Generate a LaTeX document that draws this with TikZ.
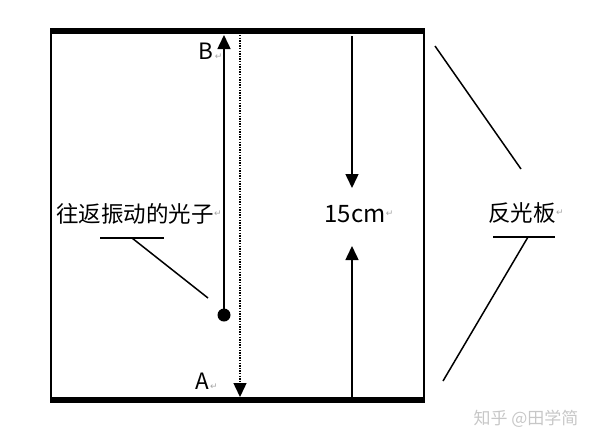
\documentclass[tikz,border=0pt]{standalone}
\usepackage{fontspec}
\setmainfont{Noto Sans CJK SC}
\newfontfamily\symfont{DejaVu Sans}
\usetikzlibrary{arrows.meta}
\begin{document}
\begin{tikzpicture}[x=1pt,y=-1pt,
  plate/.style={line width=6.5pt},
  wall/.style={line width=1.8pt},
  ray/.style={line width=1.5pt,-{Triangle[width=13pt,length=14pt]}},
  dotray/.style={line width=1.4pt,dash pattern=on 1.3pt off 1.3pt,-{Triangle[width=13pt,length=14pt]}},
  ptr/.style={line width=1.5pt},
  lbl/.style={inner sep=0pt,font=\fontsize{22.5}{24}\selectfont},
  ret/.style={inner sep=0pt,text=gray!70,font=\symfont\fontsize{9}{9}\selectfont},
  wmark/.style={inner sep=0pt,font=\fontsize{17}{18}\selectfont,text=black!22}]
\useasboundingbox (0,0) rectangle (600,440);
% plates and walls
\coordinate (TL) at (50,31);
\coordinate (TR) at (425,31);
\coordinate (BL) at (50,400);
\coordinate (BR) at (425,400);
\coordinate (WLt) at (51,31);
\coordinate (WLb) at (51,400);
\coordinate (WRt) at (424,31);
\coordinate (WRb) at (424,400);
\draw[wall] (WLt) -- (WLb);
\draw[wall] (WRt) -- (WRb);
\draw[plate] (TL) -- (TR);
\draw[plate] (BL) -- (BR);
% photon and its path
\node[circle,fill,inner sep=0pt,minimum size=13pt] (photon) at (224,315) {};
\coordinate (Btip) at (224,35);
\draw[ray] (photon.center) -- (Btip);
\coordinate (Dtop) at (240,35);
\coordinate (Dbot) at (240,397);
\draw[dotray] (Dtop) -- (Dbot);
% distance arrows
\coordinate (Mtop) at (352,36);
\coordinate (Mmid1) at (352,188);
\coordinate (Mbot) at (352,397);
\coordinate (Mmid2) at (352,246);
\draw[ray] (Mtop) -- (Mmid1);
\draw[ray] (Mbot) -- (Mmid2);
\node[inner sep=0pt,font=\fontsize{24}{26}\selectfont] (dist) at (355,214) {15cm};
\node[ret,anchor=west] (rdist) at (dist.east) {↵};
% A and B
\node[lbl] (B) at (206,51) {B};
\node[ret,anchor=south west] (rB) at ([xshift=1pt]B.south east) {↵};
\node[lbl] (A) at (202,381) {A};
\node[ret,anchor=south west] (rA) at ([xshift=1pt]A.south east) {↵};
% photon label
\node[lbl] (plabel) at (135,214) {往返振动的光子};
\node[ret,anchor=west] (rp) at (plabel.east) {↵};
\coordinate (pu1) at (100,238);
\coordinate (pu2) at (164,238);
\coordinate (pu3) at (132,238);
\coordinate (pend) at (208,298);
\draw[ptr] (pu1) -- (pu2);
\draw[ptr] (pu3) -- (pend);
% reflector label
\node[lbl] (rlabel) at (522,213) {反光板};
\node[ret,anchor=west] (rr) at (rlabel.east) {↵};
\coordinate (ra1) at (435,46);
\coordinate (ra2) at (521,169);
\draw[ptr] (ra1) -- (ra2);
\coordinate (ru1) at (493,237);
\coordinate (ru2) at (555,237);
\coordinate (ru3) at (528,237);
\coordinate (ra3) at (443,381);
\draw[ptr] (ru1) -- (ru2);
\draw[ptr] (ru3) -- (ra3);
% watermark
\node[wmark] (wm) at (526,419) {知乎 @田学简};
\end{tikzpicture}
\end{document}
